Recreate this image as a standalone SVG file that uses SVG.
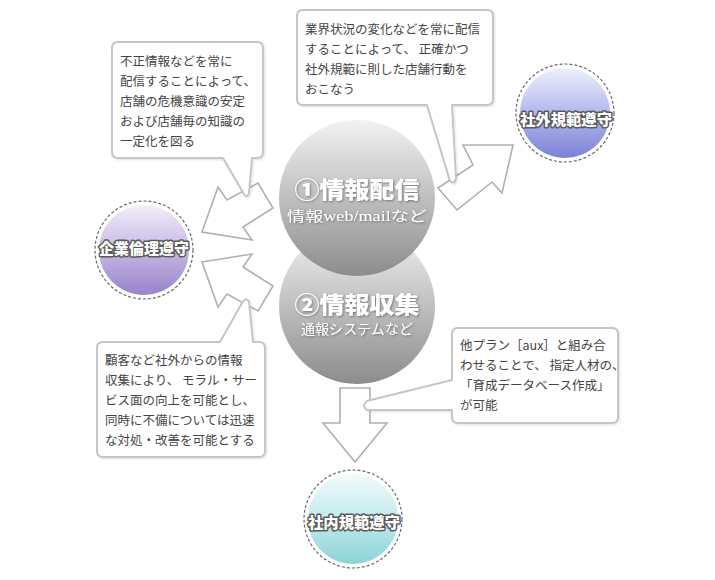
<svg xmlns="http://www.w3.org/2000/svg" width="715" height="580" viewBox="0 0 715 580">
<defs>
<linearGradient id="gGray" x1="0" y1="0" x2="0" y2="1">
<stop offset="0" stop-color="#f2f2f2"/><stop offset="1" stop-color="#8c8c8c"/>
</linearGradient>
<linearGradient id="gPurple" x1="0" y1="0" x2="0" y2="1">
<stop offset="0" stop-color="#f3eefa"/><stop offset="0.45" stop-color="#cbbde6"/><stop offset="1" stop-color="#9a82c9"/>
</linearGradient>
<linearGradient id="gBlue" x1="0" y1="0" x2="0" y2="1">
<stop offset="0" stop-color="#eef0fb"/><stop offset="0.45" stop-color="#b9bdee"/><stop offset="1" stop-color="#7b82d6"/>
</linearGradient>
<linearGradient id="gCyan" x1="0" y1="0" x2="0" y2="1">
<stop offset="0" stop-color="#f2fbfb"/><stop offset="0.45" stop-color="#c6ecee"/><stop offset="1" stop-color="#8dd3d8"/>
</linearGradient>
<filter id="sh" x="-10%" y="-30%" width="120%" height="160%">
<feDropShadow dx="1" dy="1" stdDeviation="1" flood-color="#444" flood-opacity="0.6"/>
</filter>
<filter id="bsh" x="-5%" y="-5%" width="115%" height="115%">
<feDropShadow dx="1" dy="1" stdDeviation="1" flood-color="#000" flood-opacity="0.12"/>
</filter>
</defs>
<style>
.arrow{fill:#fff;stroke:#b0b0b0;stroke-width:1.6;stroke-linejoin:miter}
.box{fill:#fff;stroke:#c6c6c6;stroke-width:2;stroke-linejoin:round}
.bt{font-family:"Noto Sans CJK JP","Noto Sans",sans-serif;font-size:12.5px;fill:#444}
.main{font-family:"Noto Sans CJK JP",sans-serif;font-weight:900;font-size:23px;fill:#fff;text-anchor:middle}
.sub{font-family:"Liberation Serif","Noto Sans CJK JP",serif;font-size:14px;fill:#fff;text-anchor:middle}
.dash{fill:#fff;stroke:#6a6a6a;stroke-width:1.2;stroke-dasharray:3 2}
.lab{font-family:"Noto Sans CJK JP",sans-serif;font-weight:900;font-size:15px;fill:#fff;stroke:#5a5a5a;stroke-width:3;stroke-linejoin:round;paint-order:stroke;text-anchor:middle}
</style>
<rect width="715" height="580" fill="#fff"/>
<g id="connectors">
<polygon class="arrow" points="202,232 218,187 227,200 258,183 273,208 243,227 252,240"/>
<polygon class="arrow" points="202,262 252,254 243,267 273,286 258,311 227,294 218,307"/>
<polygon class="arrow" points="513,145 463,145 473,165 438,188 457,210 492,182 502,193"/>
<polygon class="arrow" points="340,388 370,388 370,423 387,423 355,462 323,423 340,423"/>
</g>
<g id="node-collect">
<circle cx="357" cy="306" r="78" fill="url(#gGray)"/>
<text class="main" x="357" y="313" textLength="125" lengthAdjust="spacingAndGlyphs" filter="url(#sh)">②情報収集</text>
<text class="sub" x="357" y="334" textLength="112" lengthAdjust="spacingAndGlyphs" filter="url(#sh)">通報システムなど</text>
</g>
<g id="node-deliver">
<circle cx="357" cy="198" r="78" fill="url(#gGray)"/>
<text class="main" x="357" y="198" textLength="125" lengthAdjust="spacingAndGlyphs" filter="url(#sh)">①情報配信</text>
<text class="sub" x="357" y="221" textLength="140" lengthAdjust="spacingAndGlyphs" filter="url(#sh)">情報web/mailなど</text>
</g>
<g id="node-ethics">
<circle class="dash" cx="144" cy="250" r="49"/>
<circle cx="144" cy="250" r="45" fill="url(#gPurple)"/>
<text class="lab" x="144" y="254" textLength="90" lengthAdjust="spacingAndGlyphs">企業倫理遵守</text>
</g>
<g id="node-external">
<circle class="dash" cx="565" cy="113" r="49"/>
<circle cx="565" cy="113" r="45" fill="url(#gBlue)"/>
<text class="lab" x="566" y="125" textLength="92" lengthAdjust="spacingAndGlyphs">社外規範遵守</text>
</g>
<g id="node-internal">
<circle class="dash" cx="353" cy="519" r="49"/>
<circle cx="353" cy="519" r="45" fill="url(#gCyan)"/>
<text class="lab" x="354" y="528" textLength="92" lengthAdjust="spacingAndGlyphs">社内規範遵守</text>
</g>
<g id="callout-1">
<path class="box" filter="url(#bsh)" d="M118,42 H257 Q263,42 263,48 V152 Q263,158 257,158 H252 L249,193 Q247,199 244,194 L223,158 H118 Q112,158 112,152 V48 Q112,42 118,42 Z"/>
<text class="bt" x="120" y="66">不正情報などを常に</text>
<text class="bt" x="120" y="86">配信することによって、</text>
<text class="bt" x="120" y="106">店舗の危機意識の安定</text>
<text class="bt" x="120" y="126">および店舗毎の知識の</text>
<text class="bt" x="120" y="146">一定化を図る</text>
</g>
<g id="callout-2">
<path class="box" filter="url(#bsh)" d="M303,10 H487 Q493,10 493,16 V99 Q493,105 487,105 H452 L456,178 Q455,185 450,181 L427,105 H303 Q297,105 297,99 V16 Q297,10 303,10 Z"/>
<text class="bt" x="305" y="34">業界状況の変化などを常に配信</text>
<text class="bt" x="305" y="54">することによって、 正確かつ</text>
<text class="bt" x="305" y="74">社外規範に則した店舗行動を</text>
<text class="bt" x="305" y="94">おこなう</text>
</g>
<g id="callout-3">
<path class="box" filter="url(#bsh)" d="M103,342 H220 L242,303 Q246,296 249,302 L253,342 H259 Q265,342 265,348 V451 Q265,457 259,457 H103 Q97,457 97,451 V348 Q97,342 103,342 Z"/>
<text class="bt" x="105" y="365">顧客など社外からの情報</text>
<text class="bt" x="105" y="385">収集により、 モラル・サー</text>
<text class="bt" x="105" y="405">ビス面の向上を可能とし、</text>
<text class="bt" x="105" y="425">同時に不備については迅速</text>
<text class="bt" x="105" y="445">な対処・改善を可能とする</text>
</g>
<g id="callout-4">
<path class="box" filter="url(#bsh)" d="M458,328 H612 Q618,328 618,334 V417 Q618,423 612,423 H458 Q452,423 452,417 V410 H367 Q361,406 367,401 L452,380 V334 Q452,328 458,328 Z"/>
<text class="bt" x="460" y="350">他プラン［aux］と組み合</text>
<text class="bt" x="460" y="370">わせることで、 指定人材の、</text>
<text class="bt" x="460" y="390">「育成データベース作成」</text>
<text class="bt" x="460" y="410">が可能</text>
</g>
</svg>
